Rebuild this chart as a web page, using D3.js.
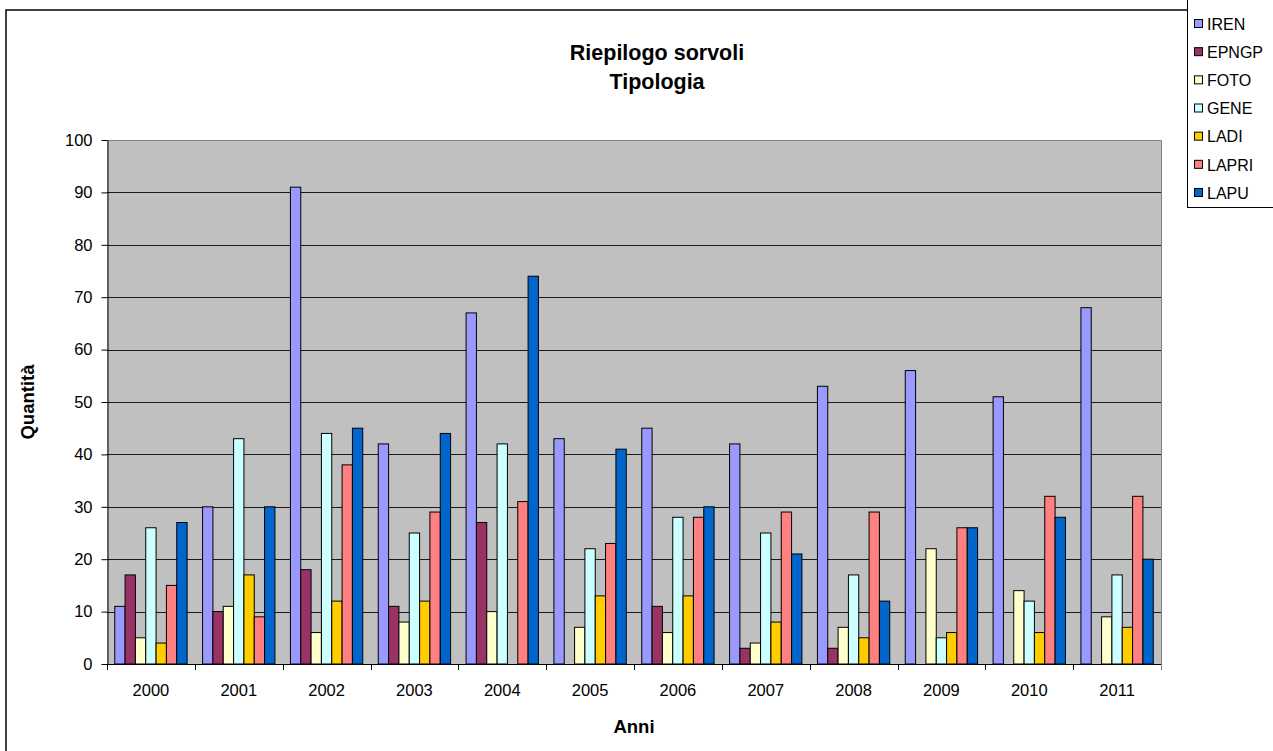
<!DOCTYPE html>
<html>
<head>
<meta charset="utf-8">
<script src="https://cdn.jsdelivr.net/npm/d3@7"></script>
<style>
  html, body { margin: 0; padding: 0; background: #fff; }
  svg { display: block; }
  text { font-family: "Liberation Sans", Arial, sans-serif; fill: #000; }
</style>
</head>
<body>
<svg id="chart" width="1273" height="751"></svg>
<script>
// Anni (categorie)
const years = ["2000","2001","2002","2003","2004","2005","2006","2007","2008","2009","2010","2011"];

// Serie per tipologia di sorvolo (null = nessun valore)
const IREN  = [11, 30, 91, 42, 67, 43, 45, 42, 53, 56, 51, 68];
const EPNGP = [17, 10, 18, 11, 27, null, 11, 3, 3, null, null, null];
const FOTO  = [5, 11, 6, 8, 10, 7, 6, 4, 7, 22, 14, 9];
const GENE  = [26, 43, 44, 25, 42, 22, 28, 25, 17, 5, 12, 17];
const LADI  = [4, 17, 12, 12, null, 13, 13, 8, 5, 6, 6, 7];
const LAPRI = [15, 9, 38, 29, 31, 23, 28, 29, 29, 26, 32, 32];
const LAPU  = [27, 30, 45, 44, 74, 41, 30, 21, 12, 26, 28, 20];

const seriesNames = ["IREN","EPNGP","FOTO","GENE","LADI","LAPRI","LAPU"];
const seriesValues = [IREN, EPNGP, FOTO, GENE, LADI, LAPRI, LAPU];
const seriesColors = ["#9999FF","#993366","#FFFFCC","#CCFFFF","#FFCC00","#FF8080","#0066CC"];

// Etichette dell'asse Y
const yTicks = [0,10,20,30,40,50,60,70,80,90,100];

const svg = d3.select("#chart");

// Cornice esterna del grafico
svg.append("rect")
  .attr("x", 6).attr("y", 10)
  .attr("width", 1400).attr("height", 900)
  .attr("fill", "#fff").attr("stroke", "#000").attr("stroke-width", 1.5);

const plot = { left: 107, right: 1161, top: 140, bottom: 664 };

const x0 = d3.scaleBand().domain(years).range([plot.left, plot.right]).paddingInner(0).paddingOuter(0);
const gapRatio = 1.5;
const barW = x0.bandwidth() / (seriesNames.length + gapRatio);
const x1 = d3.scaleBand().domain(seriesNames)
  .range([barW * gapRatio / 2, barW * gapRatio / 2 + barW * seriesNames.length]);
const y = d3.scaleLinear().domain([0, 100]).range([plot.bottom, plot.top]);

// Sfondo dell'area del tracciato
svg.append("rect")
  .attr("x", plot.left).attr("y", plot.top)
  .attr("width", plot.right - plot.left).attr("height", plot.bottom - plot.top)
  .attr("fill", "#C0C0C0");

// Griglia orizzontale
svg.append("g")
  .selectAll("line")
  .data(yTicks.filter(d => d > 0 && d < 100))
  .join("line")
  .attr("x1", plot.left).attr("x2", plot.right)
  .attr("y1", d => Math.round(y(d)) + 0.5).attr("y2", d => Math.round(y(d)) + 0.5)
  .attr("stroke", "#1a1a1a").attr("stroke-width", 1);

// Bordo superiore e destro dell'area
svg.append("path")
  .attr("d", `M${plot.left},${plot.top + 0.5}H${plot.right + 0.5}V${plot.bottom}`)
  .attr("fill", "none").attr("stroke", "#808080").attr("stroke-width", 1);

// Barre
const groups = svg.append("g").selectAll("g")
  .data(years)
  .join("g")
  .attr("transform", d => `translate(${x0(d)},0)`);

groups.selectAll("rect")
  .data((d, i) => seriesNames.map((s, k) => ({ s, k, v: seriesValues[k][i] })).filter(e => e.v != null))
  .join("rect")
  .attr("x", e => x1(e.s))
  .attr("width", barW)
  .attr("y", e => y(e.v))
  .attr("height", e => y(0) - y(e.v))
  .attr("fill", e => seriesColors[e.k])
  .attr("stroke", "#000")
  .attr("stroke-width", 1);

// Asse Y
const yAxis = d3.axisLeft(y).tickValues(yTicks).tickSize(6).tickPadding(9).tickSizeOuter(0);
const gy = svg.append("g").attr("transform", `translate(${plot.left + 0.5},0)`).call(yAxis);
gy.select(".domain").attr("stroke", "#000");
gy.selectAll(".tick line").attr("stroke", "#000");
gy.selectAll(".tick text")
  .attr("font-size", 16.5)
  .attr("font-family", "Liberation Sans, Arial, sans-serif")
  .attr("fill", "#000");

// Asse X con tacche ai confini delle categorie
svg.append("line")
  .attr("x1", plot.left).attr("x2", plot.right + 0.5)
  .attr("y1", plot.bottom + 0.5).attr("y2", plot.bottom + 0.5)
  .attr("stroke", "#000");
const bounds = years.map(d => x0(d)).concat([plot.right]);
svg.append("g").selectAll("line")
  .data(bounds)
  .join("line")
  .attr("x1", d => Math.round(d) + 0.5).attr("x2", d => Math.round(d) + 0.5)
  .attr("y1", plot.bottom).attr("y2", plot.bottom + 6)
  .attr("stroke", (d, i) => i === bounds.length - 1 ? "#808080" : "#000");
svg.append("g").selectAll("text")
  .data(years)
  .join("text")
  .attr("x", d => x0(d) + x0.bandwidth() / 2)
  .attr("y", 696)
  .attr("text-anchor", "middle")
  .attr("font-size", 16.5)
  .text(d => d);

// Titolo
const title = svg.append("text")
  .attr("x", 657).attr("text-anchor", "middle")
  .attr("font-size", 21.5).attr("font-weight", "bold");
title.append("tspan").attr("x", 657).attr("y", 60).text("Riepilogo sorvoli");
title.append("tspan").attr("x", 657).attr("y", 89).text("Tipologia");

// Titoli degli assi
svg.append("text")
  .attr("x", (plot.left + plot.right) / 2).attr("y", 733)
  .attr("text-anchor", "middle")
  .attr("font-size", 18.5).attr("font-weight", "bold")
  .text("Anni");

svg.append("text")
  .attr("transform", `translate(34,${(plot.top + plot.bottom) / 2}) rotate(-90)`)
  .attr("text-anchor", "middle")
  .attr("font-size", 18.5).attr("font-weight", "bold")
  .text("Quantità");

// Legenda
const legend = svg.append("g");
legend.append("rect")
  .attr("x", 1187.5).attr("y", -10)
  .attr("width", 200).attr("height", 217.5)
  .attr("fill", "#fff").attr("stroke", "#000").attr("stroke-width", 1);
const legendY = d3.scalePoint().domain(seriesNames).range([24, 193]);
const items = legend.selectAll("g.item")
  .data(seriesNames)
  .join("g")
  .attr("class", "item")
  .attr("transform", d => `translate(0,${legendY(d)})`);
items.append("rect")
  .attr("x", 1194.5).attr("y", -4.5)
  .attr("width", 8).attr("height", 8)
  .attr("fill", (d, i) => seriesColors[i])
  .attr("stroke", "#000").attr("stroke-width", 1);
items.append("text")
  .attr("x", 1207).attr("y", 0)
  .attr("dy", "0.36em")
  .attr("font-size", 16)
  .text(d => d);
</script>
</body>
</html>
